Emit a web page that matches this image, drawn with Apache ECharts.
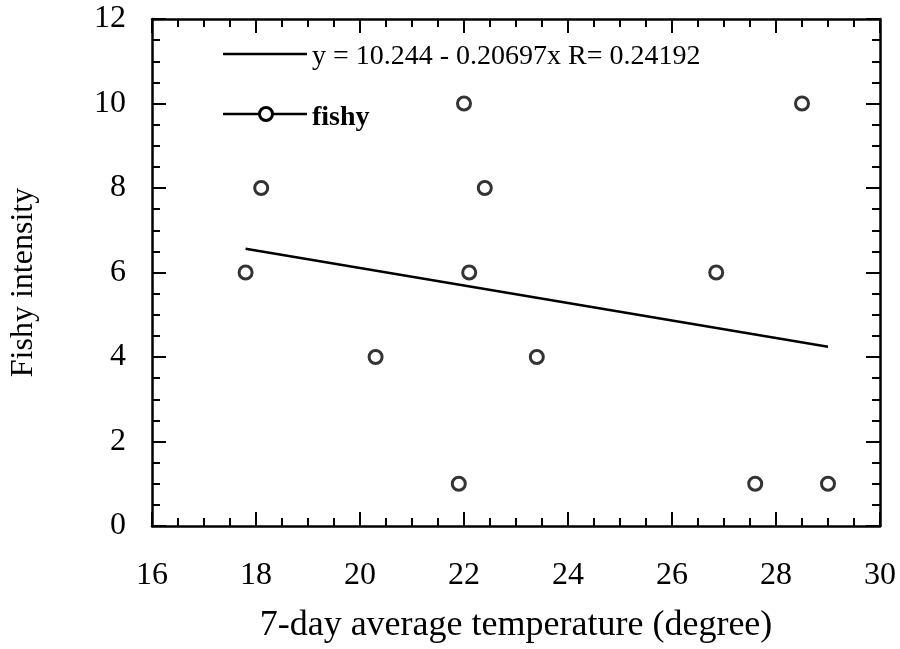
<!DOCTYPE html>
<html><head><meta charset="utf-8">
<script src="https://cdn.jsdelivr.net/npm/echarts@6/dist/echarts.min.js"></script>
<style>html,body{margin:0;padding:0;background:#fff}#c{width:900px;height:649px}</style>
</head><body><div id="c"></div>
<script>
// Data
const temperature = [17.8, 18.1, 22.0, 22.4, 22.1, 20.3, 23.4, 21.9, 26.85, 28.5, 27.6, 29.0];
const fishy       = [6, 8, 10, 8, 6, 4, 4, 1, 6, 10, 1, 1];
const fitIntercept = 10.244;
const fitSlope = -0.20697;
const fitName = 'y = 10.244 - 0.20697x R= 0.24192';
const seriesName = 'fishy';
const xRange = [16, 30];
const yRange = [0, 12];
const xTitle = '7-day average temperature (degree)';
const yTitle = 'Fishy intensity';

const points = temperature.map((t, i) => [t, fishy[i]]);
const xMin = Math.min(...temperature), xMax = Math.max(...temperature);
const fitLine = [[xMin, fitIntercept + fitSlope * xMin], [xMax, fitIntercept + fitSlope * xMax]];

const FONT = "'Liberation Serif','Times New Roman',serif";
const axisCommon = {
  axisLine: { onZero: false, lineStyle: { color: '#000', width: 2.5 } },
  axisTick: { inside: true, length: 14, lineStyle: { color: '#000', width: 2 } },
  minorTick: { show: true, splitNumber: 4, length: 8, lineStyle: { color: '#000', width: 2 } },
  splitLine: { show: false },
  minorSplitLine: { show: false }
};
const chart = echarts.init(document.getElementById('c'), null, { renderer: 'canvas' });
chart.setOption({
  backgroundColor: '#fff',
  animation: false,
  textStyle: { fontFamily: FONT, color: '#000' },
  grid: { left: 152, right: 20, top: 19, bottom: 118 },
  xAxis: [
    Object.assign({ type: 'value', position: 'bottom', min: xRange[0], max: xRange[1], interval: 2,
      name: xTitle, nameLocation: 'middle', nameGap: 82,
      nameTextStyle: { fontFamily: FONT, fontSize: 36, color: '#000' },
      axisLabel: { margin: 34, fontFamily: FONT, fontSize: 32, color: '#000' } }, axisCommon),
    Object.assign({ type: 'value', position: 'top', min: xRange[0], max: xRange[1], interval: 2,
      axisLabel: { show: false } }, axisCommon)
  ],
  yAxis: [
    Object.assign({ type: 'value', position: 'left', min: yRange[0], max: yRange[1], interval: 2,
      name: yTitle, nameLocation: 'middle', nameGap: 112,
      nameTextStyle: { fontFamily: FONT, fontSize: 32, color: '#000', padding: [0, 20, 0, 0] },
      axisLabel: { margin: 26, fontFamily: FONT, fontSize: 32, color: '#000' } }, axisCommon),
    Object.assign({ type: 'value', position: 'right', min: yRange[0], max: yRange[1], interval: 2,
      axisLabel: { show: false } }, axisCommon)
  ],
  graphic: [
    { type: 'line', shape: { x1: 223, y1: 54, x2: 307, y2: 54 }, style: { stroke: '#000', lineWidth: 2.5 } },
    { type: 'text', left: 312, top: 43, style: { text: fitName, font: "28px 'Liberation Serif', serif", fill: '#000' } },
    { type: 'line', shape: { x1: 223, y1: 114, x2: 307, y2: 114 }, style: { stroke: '#000', lineWidth: 2.5 } },
    { type: 'circle', shape: { cx: 266, cy: 114, r: 6.5 }, style: { fill: '#fff', stroke: '#000', lineWidth: 3 }, z: 10 },
    { type: 'text', left: 312, top: 104, style: { text: seriesName, font: "bold 28px 'Liberation Serif', serif", fill: '#000' } }
  ],
  series: [
    { name: fitName, type: 'line', data: fitLine, symbol: 'none', silent: true,
      lineStyle: { color: '#000', width: 2.5 }, itemStyle: { color: '#000' } },
    { name: seriesName, type: 'scatter', data: points, symbol: 'circle', symbolSize: 13,
      itemStyle: { color: '#fff', borderColor: '#000', borderWidth: 3 } }
  ]
});
</script></body></html>
